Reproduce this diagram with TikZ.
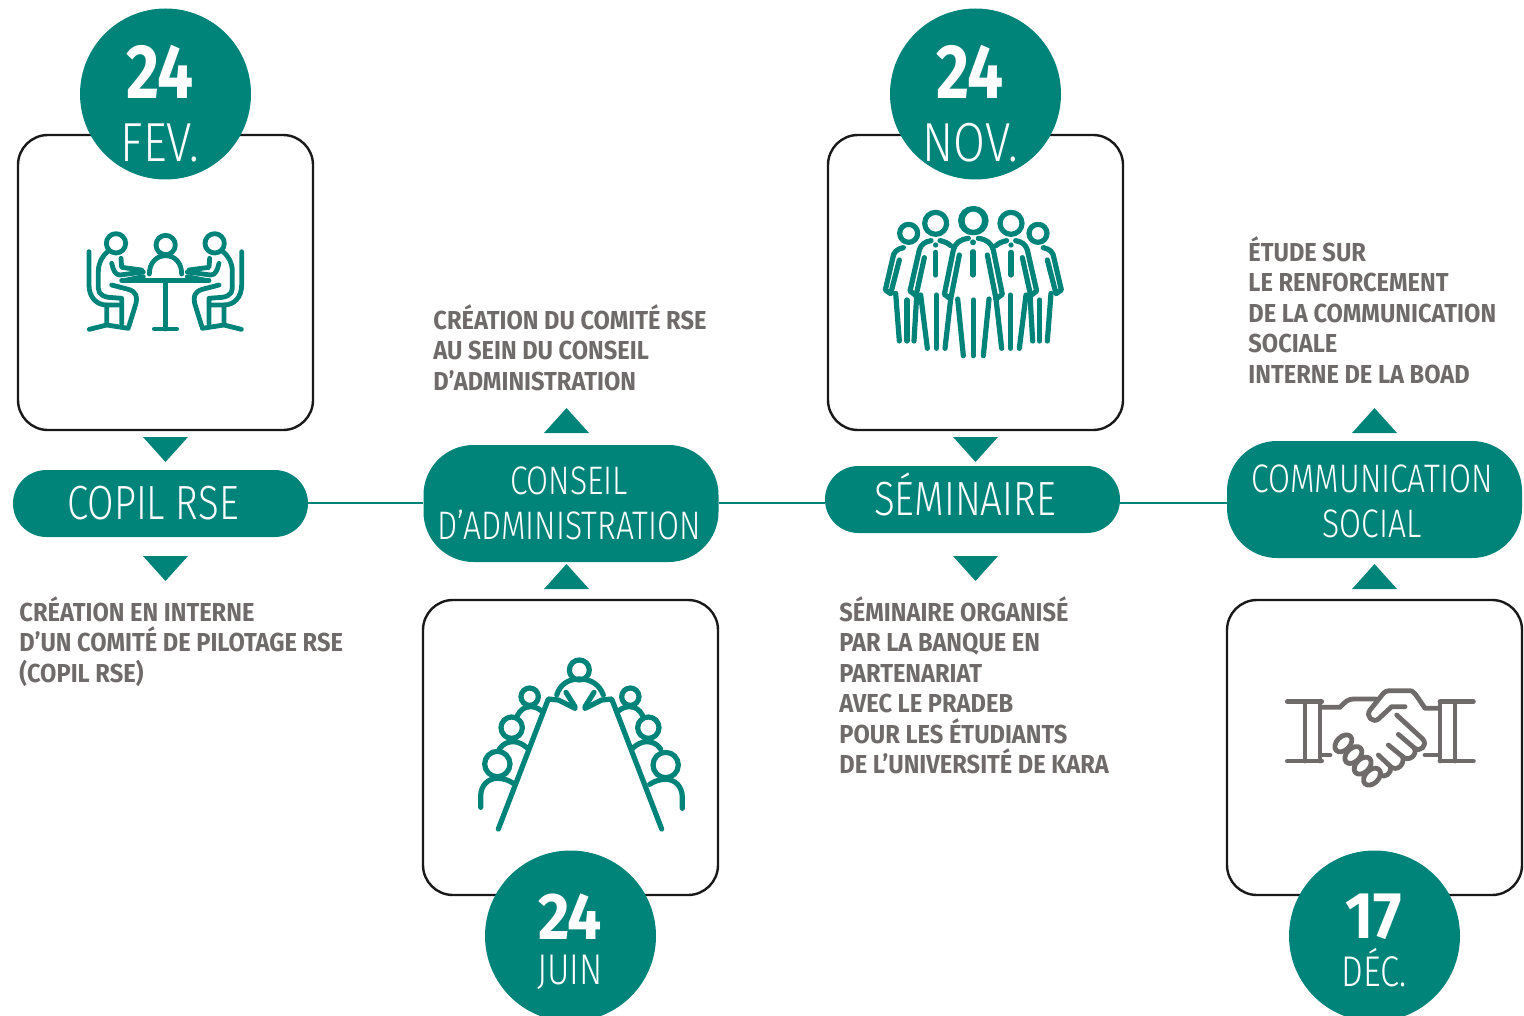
\documentclass[tikz,border=0pt]{standalone}
\usepackage{fontspec}
\setmainfont{Fira Sans}
\newfontfamily\dinreg[FakeStretch=0.80]{Fira Sans Light}
\newfontfamily\dinmonth[FakeStretch=0.84]{Fira Sans Light}
\newfontfamily\dinbold[FakeStretch=0.91]{Fira Sans}
\newfontfamily\dinhead[FakeStretch=0.83]{Fira Sans}
\newfontfamily\dinsmall[FakeStretch=0.92]{Fira Sans}
\definecolor{teal1}{HTML}{00847A}
\definecolor{grey1}{HTML}{6F6B6A}
\tikzset{
  cardbox/.style={draw=black!90,line width=1.2pt,fill=white,rounded corners=15pt,minimum width=147.5pt,minimum height=147.5pt,inner sep=0pt},
  datedisc/.style={circle,fill=teal1,minimum size=85.5pt,inner sep=0pt},
  smallpill/.style={fill=teal1,rounded corners=16.7pt,minimum width=147.5pt,minimum height=33.5pt,inner sep=0pt},
  bigpill/.style={fill=teal1,rounded corners=25pt,minimum width=147.5pt,minimum height=58.5pt,inner sep=0pt},
  pilltext/.style={text=white,align=center,font=\dinreg\fontsize{19.9}{21.5}\selectfont,inner sep=0pt},
  pilllarge/.style={text=white,align=center,font=\dinreg\fontsize{24}{24}\selectfont,inner sep=0pt},
  daynum/.style={text=white,font=\dinhead\bfseries\fontsize{38.5}{38.5}\selectfont,inner sep=0pt},
  daysmall/.style={text=white,font=\dinsmall\bfseries\fontsize{33}{33}\selectfont,inner sep=0pt},
  monthname/.style={text=white,font=\dinmonth\fontsize{27.5}{27.5}\selectfont,inner sep=0pt},
  monthsmall/.style={text=white,font=\dinreg\fontsize{21.5}{21.5}\selectfont,inner sep=0pt},
  notetext/.style={text=grey1,align=left,anchor=north west,inner sep=0pt,font=\dinbold\bfseries\fontsize{13}{15.25}\selectfont},
  link/.style={draw=teal1,line width=1.2pt},
  tri/.style={fill=teal1},
  iconline/.style={draw=teal1,line width=2.4pt,line cap=round,line join=round},
  iconthick/.style={draw=teal1,line width=2.6pt,line cap=round,line join=round},
  icongrey/.style={draw=grey1,line width=2.4pt,line cap=round,line join=round},
}
\newcommand{\seatedperson}{%
  \draw[iconline] (168,100) circle (29);
  \draw[iconline] (87,125) -- (87,225) .. controls (87,262) and (110,285) .. (140,285) -- (178,285);
  \draw[iconline] (140,285) -- (140,345) (88,358) -- (140,345) -- (205,355);
  \draw[iconline] (143,125) .. controls (125,140) and (115,160) .. (115,185) -- (115,235) .. controls (115,255) and (135,263) .. (160,263) -- (185,265) -- (185,340);
  \draw[iconline] (155,225) -- (205,238) .. controls (230,245) and (232,262) .. (228,280) -- (207,348);
  \draw[iconline] (155,160) .. controls (160,180) and (165,195) .. (180,195) -- (250,186);
  \draw[iconline] (183,145) -- (185,172) -- (245,180);
  \draw[iconline] (190,212) -- (250,200);
}
\newcommand{\standingpair}{%
  \draw[iconthick] (338,77) circle (36);
  \draw[iconthick] (227,85) circle (33);
  \draw[iconthick] (146,115) circle (27);
  \draw[iconthick] (325,130) .. controls (300,133) and (285,145) .. (280,165) -- (253,298) -- (272,312) -- (298,180);
  \draw[iconthick] (293,312) -- (310,482);
  \draw[iconthick] (272,312) -- (255,460);
  \draw[iconthick] (213,137) .. controls (195,140) and (183,148) .. (178,165) -- (150,288) -- (168,302) -- (193,188);
  \draw[iconthick] (182,300) -- (202,460);
  \draw[iconthick] (170,302) -- (162,438);
  \draw[iconthick] (240,137) .. controls (255,140) and (265,145) .. (272,152);
  \draw[iconthick] (229,300) -- (229,460);
  \draw[iconthick] (227,172) -- (227,240);
  \fill[teal1] (227,150) circle (8);
  \draw[iconthick] (130,158) .. controls (110,162) and (100,172) .. (98,190) -- (76,285) -- (92,296) -- (118,195);
  \draw[iconthick] (107,295) -- (118,438);
  \draw[iconthick] (141,315) -- (141,438);
}
\newcommand{\boardside}{%
  \draw[iconthick] (209,155) circle (26);
  \draw[iconthick] (155,248) circle (32);
  \draw[iconthick] (118,312) .. controls (130,295) and (145,290) .. (160,290) .. controls (175,290) and (190,298) .. (205,312);
  \draw[iconthick] (172,212) .. controls (180,195) and (195,185) .. (210,185) .. controls (225,185) and (235,190) .. (245,198);
  \draw[iconthick] (115,552) -- (265,162) -- (295,165) -- (345,190);
  \draw[iconthick] (318,142) -- (345,185);
}
\newcommand{\boardlow}{%
  \draw[iconthick] (112,357) circle (38);
  \draw[iconthick] (62,487) -- (62,455) .. controls (62,420) and (85,400) .. (112,400) .. controls (130,400) and (145,405) .. (160,415);
}
\begin{document}
\begin{tikzpicture}[x=0.5pt,y=-0.5pt]
\useasboundingbox (0,0) rectangle (1524,1016);

% connector pills
\node[smallpill] (p1) at (160.5,503.5) {};
\node[bigpill]   (p2) at (571,503.5) {};
\node[smallpill] (p3) at (972.5,499.5) {};
\node[bigpill]   (p4) at (1374.5,499.5) {};
\coordinate (j3w) at (p3.west |- 0,503);
\coordinate (j3e) at (p3.east |- 0,503);
\coordinate (j1e) at (p1.east |- 0,503);
\coordinate (j2w) at (p2.west |- 0,503);
\coordinate (j2e) at (p2.east |- 0,503);
\coordinate (j4w) at (p4.west |- 0,503);
\draw[link] (j1e) -- (j2w);
\draw[link] (j2e) -- (j3w);
\draw[link] (j3e) -- (j4w);

\node[pilllarge] (t1) at (153,503.5) {COPIL RSE};
\node[pilltext] (t2) at (569,503.5) {CONSEIL\\[1.2pt]D’ADMINISTRATION};
\node[pilllarge] (t3) at (965,494) {SÉMINAIRE};
\node[pilltext] (t4) at (1372,501.5) {COMMUNICATION\\[1.2pt]SOCIAL};

% cards
\node[cardbox] (c1) at (165.5,282.5) {};
\node[cardbox] (c2) at (975.5,282.5) {};
\node[cardbox] (c3) at (570.5,747.5) {};
\node[cardbox] (c4) at (1374.5,747.5) {};

% date discs
\node[datedisc] (d1) at (165.5,94) {};
\node[datedisc] (d2) at (975.5,94) {};
\node[datedisc] (d3) at (570.5,936) {};
\node[datedisc] (d4) at (1374.5,936) {};
\node[daynum] (n1) at (160,72) {24};
\node[monthname] (m1) at (160,143) {FEV.};
\node[daynum] (n2) at (970,72) {24};
\node[monthname] (m2) at (970,143) {NOV.};
\node[daysmall] (n3) at (570,917) {24};
\node[monthsmall] (m3) at (570,972) {JUIN};
\node[daysmall] (n4) at (1374,917) {17};
\node[monthsmall] (m4) at (1374,968) {DÉC.};

% triangles
\fill[tri] (143,437) -- (188,437) -- (165.5,462) -- cycle;
\fill[tri] (143,556) -- (188,556) -- (165.5,581) -- cycle;
\fill[tri] (544,433) -- (589,433) -- (566.5,408) -- cycle;
\fill[tri] (544,589) -- (589,589) -- (566.5,564) -- cycle;
\fill[tri] (953,437) -- (998,437) -- (975.5,462) -- cycle;
\fill[tri] (953,556) -- (998,556) -- (975.5,581) -- cycle;
\fill[tri] (1352,433) -- (1397,433) -- (1374.5,408) -- cycle;
\fill[tri] (1352,589) -- (1397,589) -- (1374.5,564) -- cycle;

% notes
\node[notetext] (a1) at (19,596) {CRÉATION EN INTERNE\\D’UN COMITÉ DE PILOTAGE RSE\\(COPIL RSE)};
\node[notetext] (a2) at (433,304) {CRÉATION DU COMITÉ RSE\\AU SEIN DU CONSEIL\\D’ADMINISTRATION};
\node[notetext] (a3) at (839,596) {SÉMINAIRE ORGANISÉ\\PAR LA BANQUE EN\\PARTENARIAT\\AVEC LE PRADEB\\POUR LES ÉTUDIANTS\\DE L’UNIVERSITÉ DE KARA};
\node[notetext] (a4) at (1248,236) {ÉTUDE SUR\\LE RENFORCEMENT\\DE LA COMMUNICATION\\SOCIALE\\INTERNE DE LA BOAD};

% icon 1: meeting
\begin{scope}[shift={(60,210)},x=0.16667pt,y=-0.16667pt]
  \seatedperson
  \draw[iconline] (317,105) circle (29);
  \draw[iconline] (268,192) .. controls (268,158) and (290,137) .. (317,137) .. controls (344,137) and (365,158) .. (365,192);
  \draw[iconline] (185,212) -- (447,212);
  \draw[iconline] (316,212) -- (316,357) (283,357) -- (350,357);
\end{scope}
\begin{scope}[shift={(270.67,210)},x=-0.16667pt,y=-0.16667pt]
  \seatedperson
\end{scope}

% icon 2: group
\begin{scope}[shift={(860,195)},x=0.16667pt,y=-0.16667pt]
  \standingpair
  \fill[teal1] (339,142) circle (9);
  \draw[iconthick] (339,170) -- (339,240);
  \draw[iconthick] (340,315) -- (340,482);
\end{scope}
\begin{scope}[shift={(1086.67,195)},x=-0.16667pt,y=-0.16667pt]
  \standingpair
\end{scope}

% icon 3: board table
\begin{scope}[shift={(460,645)},x=0.16667pt,y=-0.16667pt]
  \boardside
  \boardlow
  \draw[iconthick] (358,75) circle (30);
  \draw[iconthick] (290,150) .. controls (300,118) and (325,102) .. (358,102) .. controls (392,102) and (418,118) .. (430,150);
\end{scope}
\begin{scope}[shift={(700,645)},x=-0.16667pt,y=-0.16667pt]
  \boardside
\end{scope}
\begin{scope}[shift={(703,646)},x=-0.16667pt,y=-0.16667pt]
  \boardlow
\end{scope}

% icon 4: handshake
\begin{scope}[shift={(1270,675)},x=0.16667pt,y=-0.16667pt]
  \draw[icongrey] (52,80) -- (155,80) (52,258) -- (155,258) (105,80) -- (105,258) (150,80) -- (150,258);
  \draw[icongrey] (510,80) -- (610,80) (510,258) -- (610,258) (510,80) -- (510,258) (555,80) -- (555,258);
  \draw[icongrey] (155,97) -- (210,97) .. controls (225,80) and (235,72) .. (250,72) -- (318,72);
  \draw[icongrey] (405,95) -- (365,95) -- (325,132) .. controls (310,145) and (285,125) .. (300,105) -- (340,55) .. controls (345,50) and (350,47) .. (358,47) -- (420,47) .. controls (430,47) and (435,55) .. (465,100) -- (505,100);
  \draw[icongrey] (380,120) -- (458,192) .. controls (475,210) and (450,235) .. (432,218) -- (385,178);
  \draw[icongrey] (432,218) .. controls (445,240) and (415,262) .. (398,245) -- (355,210);
  \draw[icongrey] (398,245) .. controls (405,270) and (380,290) .. (362,275) -- (325,240);
  \draw[icongrey] (362,275) .. controls (365,295) and (345,310) .. (330,300);
  \draw[icongrey] (465,240) -- (505,240) (155,240) -- (180,240);
  \draw[icongrey,rotate around={45:(220,205)}] (220,205) ellipse (30 and 20);
  \draw[icongrey,rotate around={45:(250,240)}] (250,240) ellipse (30 and 20);
  \draw[icongrey,rotate around={45:(278,272)}] (278,272) ellipse (30 and 20);
  \draw[icongrey,rotate around={45:(306,305)}] (306,305) ellipse (30 and 20);
\end{scope}
\end{tikzpicture}
\end{document}
